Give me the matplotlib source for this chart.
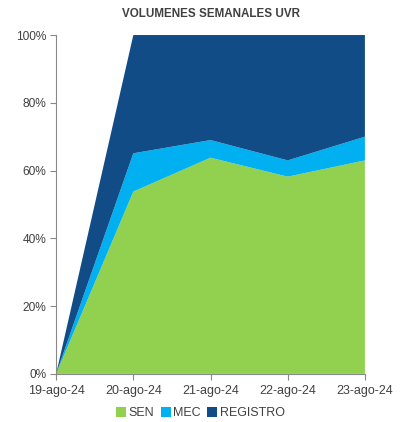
import numpy as np
import matplotlib
matplotlib.use("Agg")
import matplotlib.pyplot as plt
from matplotlib.ticker import PercentFormatter

plt.rcParams['font.family'] = ['Liberation Sans', 'DejaVu Sans']

fechas = ["19-ago-24", "20-ago-24", "21-ago-24", "22-ago-24", "23-ago-24"]
sen = [0, 53.8, 63.8, 58.2, 63.0]
mec = [0, 11.3, 5.2, 4.8, 7.0]
registro = [0, 34.9, 31.0, 37.0, 30.0]

colores = ['#92D050', '#00B0F0', '#124C87']
nombres = ['SEN', 'MEC', 'REGISTRO']

fig = plt.figure(figsize=(4.01, 4.22), dpi=100)
ax = fig.add_axes([0.14, 0.114, 0.77, 0.803])

x = np.arange(len(fechas))
ax.stackplot(x, sen, mec, registro, colors=colores, labels=nombres, linewidth=0)

ax.set_xlim(0, len(fechas) - 1)
ax.set_ylim(0, 100)
ax.set_yticks(np.arange(0, 101, 20))
ax.yaxis.set_major_formatter(PercentFormatter(decimals=0))
ax.set_xticks(x)
ax.set_xticklabels(fechas)

for s in ['top', 'right']:
    ax.spines[s].set_visible(False)
for s in ['left', 'bottom']:
    ax.spines[s].set_color('#888888')
    ax.spines[s].set_linewidth(0.8)
ax.tick_params(colors='#888888', labelcolor='#404040', labelsize=9, length=4, width=0.8)
ax.tick_params(axis='y', labelsize=8.6, pad=3)
ax.tick_params(axis='x', pad=4)

ax.set_title("VOLUMENES SEMANALES UVR", fontsize=8.4, fontweight='bold', color='#404040', pad=13)

# leyenda abajo, centrada
leg = fig.legend(loc='lower center', bbox_to_anchor=(0.5, -0.02), ncol=3, frameon=False,
                 fontsize=9, handlelength=0.8, handleheight=0.8, handletextpad=0.2,
                 columnspacing=0.5, labelcolor='#404040')

fig.savefig("out.png", dpi=100)
